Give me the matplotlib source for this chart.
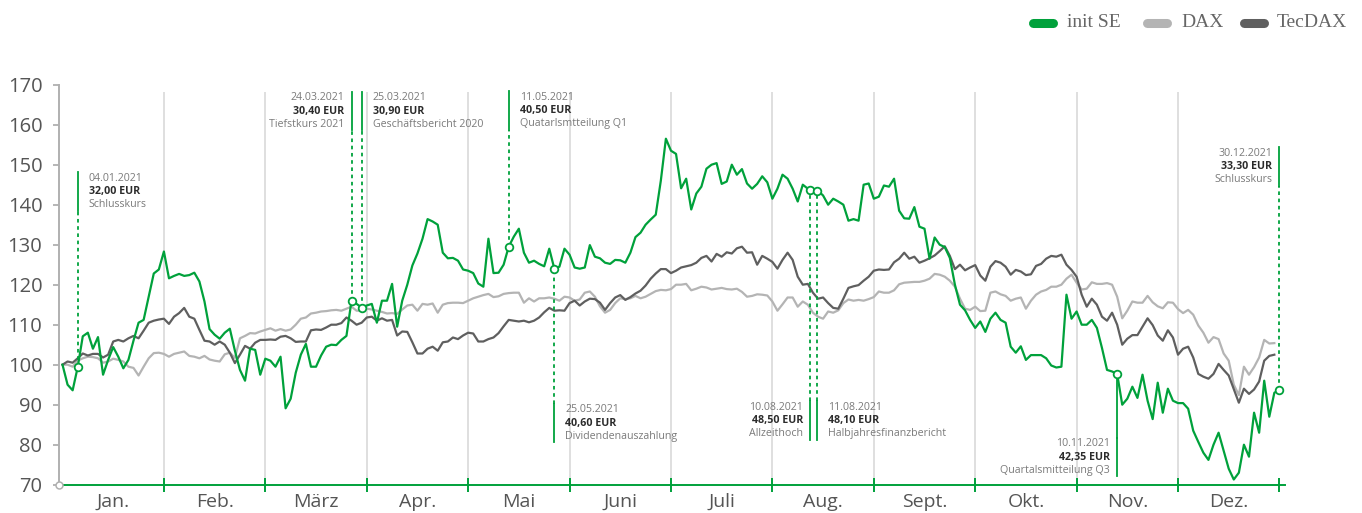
import numpy as np
import matplotlib
matplotlib.use("Agg")
import matplotlib.pyplot as plt
from matplotlib.lines import Line2D
from matplotlib.transforms import offset_copy

months = ["Jan.", "Feb.", "März", "Apr.", "Mai", "Juni",
          "Juli", "Aug.", "Sept.", "Okt.", "Nov.", "Dez."]
points_per_month = 20  # sampled trading days per month

# indexed performance 2021 (start = 100)
init_se = [
    100.0, 95.0, 93.6, 99.4, 107.1, 108.0, 104.0, 106.9, 97.5, 101.2, 104.4, 102.0, 99.1, 101.2, 106.0, 110.5, 111.2, 117.0, 122.8, 123.8,
    128.3, 121.6, 122.2, 122.7, 122.2, 122.4, 123.0, 120.8, 115.8, 108.9, 107.5, 106.5, 108.0, 109.0, 103.5, 98.7, 96.0, 104.0, 103.7, 97.5,
    101.5, 101.0, 99.5, 102.0, 89.1, 91.5, 98.0, 102.5, 105.2, 99.5, 99.5, 102.3, 104.5, 105.0, 104.9, 106.2, 107.2, 116.0, 115.2, 114.3,
    114.8, 115.2, 110.5, 116.0, 116.0, 120.2, 109.5, 116.0, 120.0, 124.8, 127.8, 131.5, 136.4, 135.8, 135.0, 128.0, 126.6, 126.7, 126.0, 123.8,
    123.5, 122.9, 120.3, 119.5, 131.5, 122.9, 123.0, 125.0, 129.5, 132.0, 134.0, 128.0, 125.5, 126.0, 125.2, 124.6, 129.0, 124.0, 124.5, 129.0,
    127.5, 124.3, 124.0, 124.3, 129.9, 127.0, 126.6, 125.5, 125.2, 126.2, 126.1, 125.5, 128.0, 131.9, 133.0, 135.0, 136.3, 137.5, 146.0, 156.5,
    153.5, 152.7, 144.1, 146.5, 138.8, 142.8, 144.5, 149.0, 150.0, 150.4, 145.2, 145.8, 150.0, 147.5, 148.9, 145.3, 144.0, 145.2, 147.1, 145.6,
    141.5, 144.0, 147.5, 146.5, 144.0, 140.8, 145.0, 144.0, 143.2, 143.5, 142.3, 140.0, 141.5, 140.8, 140.0, 136.0, 136.4, 136.0, 145.0, 145.3,
    141.5, 142.0, 144.8, 144.5, 146.5, 138.5, 136.6, 136.5, 139.4, 134.5, 134.0, 126.5, 131.8, 130.0, 129.4, 126.7, 120.0, 115.0, 113.6, 111.2,
    109.2, 110.8, 108.2, 111.5, 113.0, 111.2, 110.5, 104.5, 103.0, 104.6, 101.2, 102.4, 102.4, 102.4, 101.6, 99.8, 99.3, 99.5, 117.5, 111.5,
    113.3, 110.0, 110.0, 111.2, 109.2, 104.2, 98.7, 98.3, 97.7, 90.0, 91.5, 94.5, 91.7, 97.5, 91.0, 86.4, 95.5, 88.0, 94.0, 91.0,
    90.4, 90.4, 89.0, 83.5, 80.7, 78.0, 76.2, 80.0, 83.0, 78.5, 74.0, 71.3, 73.0, 80.0, 77.0, 88.0, 83.0, 96.0, 87.0, 93.0, 93.7,
]

dax = [
    100.0, 100.0, 99.5, 101.0, 101.6, 102.0, 101.9, 101.6, 100.5, 100.8, 101.5, 101.2, 100.8, 99.5, 99.2, 97.3, 99.5, 101.6, 102.9, 103.0,
    102.7, 102.0, 102.7, 103.0, 103.3, 102.2, 102.0, 101.6, 102.2, 101.3, 101.0, 100.8, 102.6, 103.0, 101.7, 106.6, 107.2, 107.9, 107.8, 108.3,
    108.7, 109.1, 108.5, 108.9, 108.5, 108.8, 110.0, 111.5, 111.8, 112.8, 113.0, 113.3, 113.4, 113.6, 113.7, 113.5, 114.0, 114.5, 113.5, 113.5,
    114.0, 113.8, 113.5, 113.2, 112.8, 112.9, 112.7, 113.8, 114.8, 115.0, 113.5, 115.2, 115.0, 115.3, 113.0, 115.0, 115.4, 115.5, 115.5, 115.4,
    116.0, 116.6, 117.0, 117.4, 117.7, 116.9, 117.1, 117.7, 117.9, 118.0, 118.0, 115.5, 116.6, 115.8, 116.6, 116.6, 116.8, 116.5, 116.0, 117.0,
    116.8, 116.0, 116.3, 118.0, 118.3, 117.0, 114.6, 113.0, 113.7, 115.4, 116.6, 116.4, 116.6, 117.2, 116.6, 117.0, 117.7, 118.4, 118.7, 118.6,
    118.9, 120.0, 120.0, 120.2, 118.6, 119.0, 119.5, 119.3, 118.8, 119.0, 119.2, 118.9, 118.8, 119.0, 118.2, 117.0, 117.2, 117.6, 117.5, 117.3,
    115.8, 113.5, 115.1, 116.8, 116.8, 114.5, 115.8, 115.0, 113.0, 112.0, 111.5, 113.3, 113.0, 113.6, 115.4, 116.3, 116.0, 116.2, 116.0, 116.4,
    116.9, 118.3, 118.0, 118.0, 118.6, 120.1, 120.5, 120.6, 120.7, 120.7, 121.0, 121.5, 122.7, 122.5, 122.0, 121.0, 119.5, 116.5, 114.0, 113.7,
    114.5, 113.4, 113.5, 118.0, 118.3, 117.6, 117.2, 116.0, 116.5, 116.8, 114.0, 116.0, 117.5, 118.3, 118.7, 119.5, 119.5, 120.0, 121.5, 122.5,
    120.5, 118.8, 119.0, 120.6, 120.2, 120.2, 120.4, 120.0, 117.0, 111.6, 113.5, 115.8, 115.5, 115.5, 117.2, 115.6, 114.6, 114.1, 115.6, 115.5,
    113.9, 112.9, 113.7, 112.5, 109.8, 108.0, 105.5, 106.9, 106.4, 102.8, 101.0, 95.0, 92.4, 99.5, 97.5, 99.4, 101.8, 106.2, 105.3, 105.4,
]

tecdax = [
    100.0, 100.8, 100.5, 101.6, 102.8, 102.3, 102.7, 102.7, 101.8, 102.5, 105.8, 106.2, 105.8, 106.6, 107.2, 106.6, 108.5, 110.5, 111.0, 111.3,
    111.5, 110.2, 112.0, 112.9, 114.2, 112.0, 111.5, 108.7, 106.0, 105.8, 105.0, 105.8, 105.0, 103.0, 100.4, 102.5, 104.7, 104.0, 105.5, 106.2,
    106.2, 106.3, 106.2, 107.0, 107.2, 106.6, 105.7, 105.8, 105.8, 108.6, 108.8, 108.7, 109.3, 110.0, 110.0, 110.4, 111.8, 111.0, 110.0, 110.5,
    111.8, 112.0, 111.0, 111.6, 111.0, 111.2, 107.3, 108.3, 108.2, 105.6, 102.8, 102.8, 104.0, 104.5, 103.5, 105.6, 105.8, 106.8, 106.4, 107.3,
    108.0, 107.8, 105.8, 105.8, 106.4, 106.8, 107.9, 109.6, 111.2, 111.0, 110.8, 111.0, 110.6, 111.0, 111.8, 113.1, 114.2, 113.5, 113.6, 113.5,
    115.4, 116.0, 114.8, 115.8, 116.5, 116.4, 115.5, 113.7, 115.4, 116.8, 117.4, 116.2, 116.9, 117.8, 118.5, 119.8, 121.5, 122.8, 123.9, 123.9,
    122.9, 123.5, 124.3, 124.6, 124.9, 125.5, 126.7, 127.2, 125.8, 127.7, 127.0, 128.1, 127.8, 129.1, 129.5, 128.0, 128.1, 125.0, 127.2, 126.5,
    125.7, 124.0, 126.2, 128.0, 126.2, 122.0, 120.0, 120.2, 118.0, 116.5, 116.8, 115.4, 114.2, 114.0, 116.5, 119.2, 119.6, 119.9, 121.0, 122.0,
    123.5, 123.8, 123.7, 123.8, 125.6, 126.5, 128.0, 126.5, 127.0, 125.5, 126.0, 126.6, 127.3, 128.4, 129.6, 127.2, 123.9, 125.0, 123.6, 124.3,
    124.9, 122.3, 121.0, 124.5, 125.9, 125.5, 124.5, 122.5, 123.7, 123.3, 122.4, 122.6, 124.7, 125.2, 126.5, 127.2, 127.0, 127.5, 125.0, 123.7,
    122.0, 117.5, 114.5, 116.5, 115.0, 112.0, 111.0, 113.0, 110.0, 105.0, 106.5, 107.4, 107.4, 109.5, 111.6, 109.9, 107.3, 106.0, 108.6, 106.8,
    102.5, 104.0, 104.5, 101.8, 97.7, 97.0, 96.5, 97.7, 100.2, 98.7, 97.3, 93.9, 90.5, 94.0, 92.7, 93.8, 95.8, 101.0, 102.2, 102.5,
]

series_names = ["init SE", "DAX", "TecDAX"]
series_colors = ["#00a13b", "#b4b4b4", "#5f5f5f"]

# events on the init SE line
event_idx = [3, 57, 59, 88, 97, 147.4, 148.9, 208, 240]
event_dates = ["04.01.2021", "24.03.2021", "25.03.2021", "11.05.2021", "25.05.2021",
               "10.08.2021", "11.08.2021", "10.11.2021", "30.12.2021"]
event_prices = ["32,00 EUR", "30,40 EUR", "30,90 EUR", "40,50 EUR", "40,60 EUR",
                "48,50 EUR", "48,10 EUR", "42,35 EUR", "33,30 EUR"]
event_labels = ["Schlusskurs", "Tiefstkurs 2021", "Geschäftsbericht 2020",
                "Quatarlsmtteilung Q1", "Dividendenauszahlung", "Allzeithoch",
                "Halbjahresfinanzbericht", "Quartalsmitteilung Q3", "Schlusskurs"]
# layout of the event labels: y of first text line, side of text, dotted connector
ev_text_y = [146.6, 166.7, 166.7, 166.9, 88.7, 89.4, 89.4, 80.2, 152.9]
ev_side = ["r", "l", "r", "r", "r", "l", "r", "l", "l"]
ev_dotted = [True, True, True, True, True, True, True, False, True]

GREEN = series_colors[0]
SANS = ["Open Sans", "DejaVu Sans"]

fig = plt.figure(figsize=(13.62, 5.13), dpi=100)
ax = fig.add_axes([59 / 1362, 28.3 / 513, 1226 / 1362, 400 / 513])

x_init = np.arange(len(init_se))
x_dax = np.arange(len(dax))
x_tec = np.arange(len(tecdax))

# month separators
bounds = np.arange(1, len(months)) * points_per_month
ax.vlines(bounds, 70, 168.2, color="#dcdcdc", lw=1.3, zorder=0)

ax.plot(x_dax, dax, color=series_colors[1], lw=1.6, zorder=2)
ax.plot(x_tec, tecdax, color=series_colors[2], lw=1.6, zorder=3)
ax.plot(x_init, init_se, color=GREEN, lw=1.6, zorder=4)

ax.set_xlim(-0.69, 241.1)
ax.set_ylim(70, 170)

for s in ["top", "right"]:
    ax.spines[s].set_visible(False)
ax.spines["left"].set_color("#b0b0b0")
ax.spines["left"].set_linewidth(1.4)
ax.spines["bottom"].set_color(GREEN)
ax.spines["bottom"].set_linewidth(1.4)

ax.set_yticks(np.arange(70, 171, 10))
ax.tick_params(axis="y", colors="#b0b0b0", labelcolor="#555555", length=4,
               width=1.3, pad=8, labelsize=14.5)
for lab in ax.get_yticklabels():
    lab.set_fontfamily(SANS)

ax.set_xticks(np.arange(1, len(months) + 1) * points_per_month)
ax.set_xticklabels([])
ax.tick_params(axis="x", colors=GREEN, direction="inout", length=9.5, width=1.4)

lab_tr = offset_copy(ax.transData, fig=fig, x=0, y=-8, units="dots")
for m, name in enumerate(months):
    ax.text(m * points_per_month + points_per_month / 2, 70, name, transform=lab_tr,
            ha="center", va="top", fontsize=14, color="#555555", family=SANS)

# open circle at the origin
ax.plot([-0.69], [70], "o", ms=5, mfc="white", mec="#b0b0b0", mew=1.1,
        clip_on=False, zorder=6)

# event annotations
line_step = 3.3
for k in range(len(event_idx)):
    xi = event_idx[k]
    yv = np.interp(xi, x_init, init_se)
    ty = ev_text_y[k]
    top = ty + 1.5
    bot = ty - 2 * line_step - 1.5
    ax.plot([xi, xi], [bot, top], color=GREEN, lw=1.3, zorder=5)
    if yv > top:
        seg = [top, yv]
    else:
        seg = [yv, bot]
    ax.plot([xi, xi], seg, color=GREEN, lw=1.3, zorder=5,
            ls=(0, (2, 2)) if ev_dotted[k] else "-")
    ax.plot([xi], [yv], "o", ms=5.5, mfc="white", mec=GREEN, mew=1.3, zorder=7)
    dx = 11 if ev_side[k] == "r" else -7
    ha = "left" if ev_side[k] == "r" else "right"
    tr = offset_copy(ax.transData, fig=fig, x=dx, y=0, units="dots")
    ax.text(xi, ty, event_dates[k], transform=tr, ha=ha, va="center",
            fontsize=7.7, color="#7a7a7a", family=SANS, zorder=8)
    ax.text(xi, ty - line_step, event_prices[k], transform=tr, ha=ha, va="center",
            fontsize=7.7, color="#2b2b2b", fontweight="bold", family=SANS, zorder=8)
    ax.text(xi, ty - 2 * line_step, event_labels[k], transform=tr, ha=ha, va="center",
            fontsize=7.7, color="#7a7a7a", family=SANS, zorder=8)

# legend (top right)
leg_pill_px = [1033, 1147, 1244]
leg_text_px = [1067, 1181, 1277]
leg_y = 1 - 23 / 513
for name, col, px, tx in zip(series_names, series_colors, leg_pill_px, leg_text_px):
    fig.add_artist(Line2D([px / 1362, (px + 20) / 1362], [leg_y, leg_y],
                          transform=fig.transFigure, color=col, lw=6.5,
                          solid_capstyle="round"))
    fig.text(tx / 1362, leg_y, name, ha="left", va="center", fontsize=14,
             color="#666666", family=["Liberation Serif", "DejaVu Serif"])

fig.savefig("out.png", dpi=100)
